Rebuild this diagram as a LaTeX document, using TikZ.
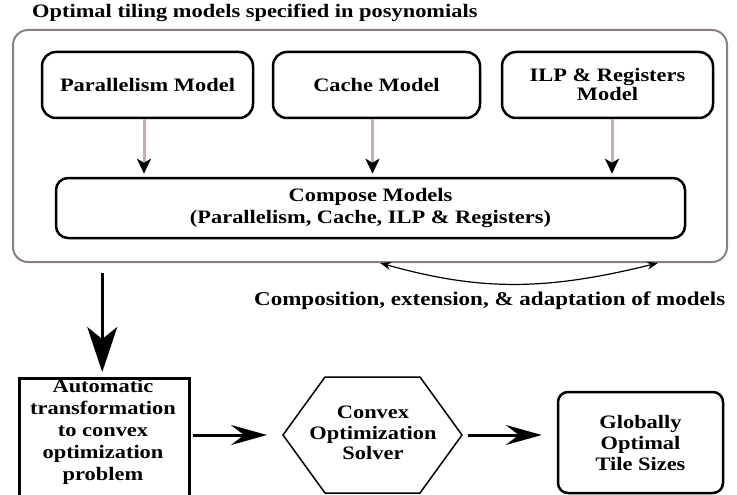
\documentclass[tikz,border=0pt]{standalone}
\usepackage{fontspec}
\setmainfont{Liberation Serif}[FakeStretch=1.18]
\usetikzlibrary{arrows.meta}
\definecolor{framegray}{RGB}{140,128,128}
\definecolor{arrowpink}{RGB}{205,172,172}
\begin{document}
\begin{tikzpicture}[x=1pt,y=-1pt,
  txt/.style={font=\bfseries\fontsize{19}{22}\selectfont, align=center, inner sep=0pt},
  modelbox/.style={draw, line width=2.5pt, rounded corners=14pt, minimum width=211pt, minimum height=66pt, txt},
  modarrow/.style={draw=arrowpink, line width=3pt, -{Stealth[length=15pt,width=14pt,inset=4pt,color=black]}},
  harrow/.style={line width=3pt, -{Stealth[length=36pt,width=20pt,inset=13pt]}},
  bigarrow/.style={line width=2.5pt, -{Stealth[length=45pt,width=30pt,inset=12pt]}},
  thinarrow/.style={line width=1.2pt, {Stealth[length=11pt,width=8pt]}-{Stealth[length=11pt,width=8pt]}}]
\useasboundingbox (0,0) rectangle (737,495);

% title
\node[txt, anchor=base west] (title) at (32,18) {Optimal tiling models specified in posynomials};

% outer frame
\node[draw=framegray, line width=2pt, rounded corners=15pt, minimum width=714pt, minimum height=232pt, inner sep=0pt] (outer) at (370,146) {};

% model boxes
\node[modelbox] (par) at (147.5,85) {Parallelism Model};
\node[modelbox, minimum width=207pt] (cache) at (376.5,85) {Cache Model};
\node[modelbox, font=\bfseries\fontsize{19}{19}\selectfont] (ilp) at (607.5,85) {ILP \& Registers\\Model};

% compose box
\node[draw, line width=2.5pt, rounded corners=12pt, minimum width=629pt, minimum height=60pt, txt] (comp) at (370.5,208) {Compose Models\\(Parallelism, Cache, ILP \& Registers)};

% model arrows
\draw[modarrow, shorten >=3pt] ([xshift=-3.5pt]par.south) -- ([xshift=-3.5pt]par.south |- comp.north);
\draw[modarrow, shorten >=3pt] ([xshift=-4pt]cache.south) -- ([xshift=-4pt]cache.south |- comp.north);
\draw[modarrow, shorten >=3pt] ([xshift=4.5pt]ilp.south) -- ([xshift=4.5pt]ilp.south |- comp.north);

% composition double arrow
\coordinate (dl) at (380,263);
\coordinate (dr) at (658,263);
\draw[thinarrow] (dl) .. controls (480,291) and (545,291) .. (dr);
\node[txt, anchor=base west, font=\bfseries\fontsize{19.5}{22}\selectfont] (complabel) at (254,305) {Composition, extension, \& adaptation of models};

% automatic transformation box
\node[draw, line width=2.5pt, minimum width=170pt, minimum height=130pt, anchor=north west, inner sep=0pt] (autobox) at (18,377) {};
\node[txt] (autotxt) at (103,432) {Automatic\\transformation\\to convex\\optimization\\problem};

% big arrow
\draw[bigarrow, shorten <=10pt, shorten >=5pt] ([xshift=-2pt]autobox.north |- outer.south) -- ([xshift=-2pt]autobox.north);

% hexagon solver
\coordinate (hA) at (283,435);
\coordinate (hB) at (325,377);
\coordinate (hC) at (420,377);
\coordinate (hD) at (462,435);
\coordinate (hE) at (420,493);
\coordinate (hF) at (325,493);
\draw[line width=1.5pt, line join=miter] (hA) -- (hB) -- (hC) -- (hD) -- (hE) -- (hF) -- cycle;
\node[txt, font=\bfseries\fontsize{19}{20.5}\selectfont] (solver) at (373,433) {Convex\\Optimization\\Solver};

% globally optimal box
\node[draw, line width=2.5pt, rounded corners=10pt, minimum width=165pt, minimum height=101pt, txt, font=\bfseries\fontsize{19}{21}\selectfont] (glob) at (640.5,442.5) {Globally\\Optimal\\Tile Sizes};

% horizontal arrows
\draw[harrow, shorten <=2pt, shorten >=16pt] (autobox.east |- hA) -- (hA);
\draw[harrow, shorten <=6pt, shorten >=15pt] (hD) -- (glob.west |- hD);
\end{tikzpicture}
\end{document}
